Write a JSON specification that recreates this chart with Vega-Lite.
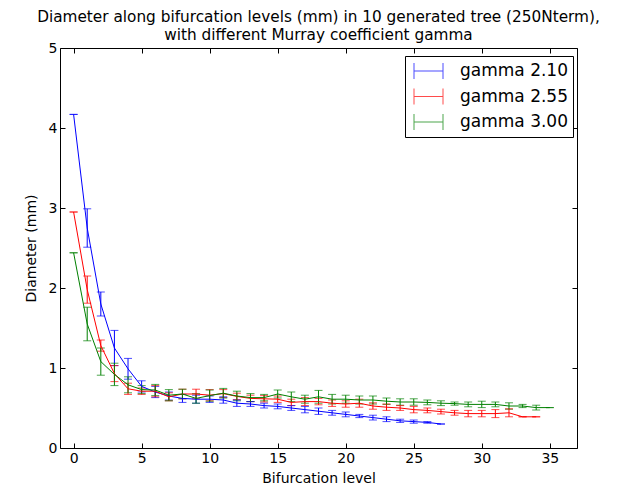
{
  "$schema": "https://vega.github.io/schema/vega-lite/v6.json",
  "width": 517,
  "height": 400,
  "autosize": "none",
  "padding": {"left": 60, "top": 48, "right": 53, "bottom": 44},
  "background": "white",
  "title": {
    "text": ["Diameter along bifurcation levels (mm) in 10 generated tree (250Nterm),", "with different Murray coefficient gamma"],
    "font": "DejaVu Sans",
    "fontSize": 15.3,
    "fontWeight": "normal",
    "color": "black",
    "anchor": "middle",
    "offset": -2,
    "lineHeight": 18
  },
  "config": {
    "view": {"stroke": "black", "strokeWidth": 1},
    "font": "DejaVu Sans",
    "axis": {
      "grid": false,
      "domain": false,
      "tickColor": "black",
      "tickSize": -5,
      "labelColor": "black",
      "labelFontSize": 14,
      "labelFont": "DejaVu Sans",
      "titleFont": "DejaVu Sans",
      "titleFontSize": 14,
      "titleFontWeight": "normal",
      "titleColor": "black",
      "labelPadding": 8
    }
  },
  "data": {
    "values": [
      {"gamma": "gamma 2.10", "level": 0, "mean": 4.17, "err": 0.0},
      {"gamma": "gamma 2.10", "level": 1, "mean": 2.75, "err": 0.24},
      {"gamma": "gamma 2.10", "level": 2, "mean": 1.80, "err": 0.15},
      {"gamma": "gamma 2.10", "level": 3, "mean": 1.25, "err": 0.22},
      {"gamma": "gamma 2.10", "level": 4, "mean": 0.99, "err": 0.13},
      {"gamma": "gamma 2.10", "level": 5, "mean": 0.77, "err": 0.07},
      {"gamma": "gamma 2.10", "level": 6, "mean": 0.70, "err": 0.07},
      {"gamma": "gamma 2.10", "level": 7, "mean": 0.65, "err": 0.05},
      {"gamma": "gamma 2.10", "level": 8, "mean": 0.62, "err": 0.05},
      {"gamma": "gamma 2.10", "level": 9, "mean": 0.61, "err": 0.05},
      {"gamma": "gamma 2.10", "level": 10, "mean": 0.61, "err": 0.04},
      {"gamma": "gamma 2.10", "level": 11, "mean": 0.60, "err": 0.04},
      {"gamma": "gamma 2.10", "level": 12, "mean": 0.56, "err": 0.04},
      {"gamma": "gamma 2.10", "level": 13, "mean": 0.55, "err": 0.03},
      {"gamma": "gamma 2.10", "level": 14, "mean": 0.53, "err": 0.03},
      {"gamma": "gamma 2.10", "level": 15, "mean": 0.52, "err": 0.03},
      {"gamma": "gamma 2.10", "level": 16, "mean": 0.50, "err": 0.03},
      {"gamma": "gamma 2.10", "level": 17, "mean": 0.48, "err": 0.04},
      {"gamma": "gamma 2.10", "level": 18, "mean": 0.46, "err": 0.04},
      {"gamma": "gamma 2.10", "level": 19, "mean": 0.44, "err": 0.03},
      {"gamma": "gamma 2.10", "level": 20, "mean": 0.42, "err": 0.03},
      {"gamma": "gamma 2.10", "level": 21, "mean": 0.40, "err": 0.02},
      {"gamma": "gamma 2.10", "level": 22, "mean": 0.38, "err": 0.03},
      {"gamma": "gamma 2.10", "level": 23, "mean": 0.36, "err": 0.03},
      {"gamma": "gamma 2.10", "level": 24, "mean": 0.34, "err": 0.02},
      {"gamma": "gamma 2.10", "level": 25, "mean": 0.33, "err": 0.02},
      {"gamma": "gamma 2.10", "level": 26, "mean": 0.32, "err": 0.01},
      {"gamma": "gamma 2.10", "level": 27, "mean": 0.30, "err": 0.0},
      {"gamma": "gamma 2.55", "level": 0, "mean": 2.95, "err": 0.0},
      {"gamma": "gamma 2.55", "level": 1, "mean": 1.98, "err": 0.17},
      {"gamma": "gamma 2.55", "level": 2, "mean": 1.28, "err": 0.07},
      {"gamma": "gamma 2.55", "level": 3, "mean": 0.93, "err": 0.10},
      {"gamma": "gamma 2.55", "level": 4, "mean": 0.74, "err": 0.07},
      {"gamma": "gamma 2.55", "level": 5, "mean": 0.71, "err": 0.04},
      {"gamma": "gamma 2.55", "level": 6, "mean": 0.71, "err": 0.07},
      {"gamma": "gamma 2.55", "level": 7, "mean": 0.64, "err": 0.05},
      {"gamma": "gamma 2.55", "level": 8, "mean": 0.675, "err": 0.06},
      {"gamma": "gamma 2.55", "level": 9, "mean": 0.675, "err": 0.06},
      {"gamma": "gamma 2.55", "level": 10, "mean": 0.66, "err": 0.07},
      {"gamma": "gamma 2.55", "level": 11, "mean": 0.68, "err": 0.05},
      {"gamma": "gamma 2.55", "level": 12, "mean": 0.645, "err": 0.04},
      {"gamma": "gamma 2.55", "level": 13, "mean": 0.62, "err": 0.04},
      {"gamma": "gamma 2.55", "level": 14, "mean": 0.615, "err": 0.04},
      {"gamma": "gamma 2.55", "level": 15, "mean": 0.61, "err": 0.04},
      {"gamma": "gamma 2.55", "level": 16, "mean": 0.57, "err": 0.04},
      {"gamma": "gamma 2.55", "level": 17, "mean": 0.58, "err": 0.05},
      {"gamma": "gamma 2.55", "level": 18, "mean": 0.58, "err": 0.04},
      {"gamma": "gamma 2.55", "level": 19, "mean": 0.56, "err": 0.04},
      {"gamma": "gamma 2.55", "level": 20, "mean": 0.55, "err": 0.04},
      {"gamma": "gamma 2.55", "level": 21, "mean": 0.56, "err": 0.05},
      {"gamma": "gamma 2.55", "level": 22, "mean": 0.525, "err": 0.04},
      {"gamma": "gamma 2.55", "level": 23, "mean": 0.51, "err": 0.04},
      {"gamma": "gamma 2.55", "level": 24, "mean": 0.50, "err": 0.03},
      {"gamma": "gamma 2.55", "level": 25, "mean": 0.48, "err": 0.04},
      {"gamma": "gamma 2.55", "level": 26, "mean": 0.47, "err": 0.03},
      {"gamma": "gamma 2.55", "level": 27, "mean": 0.455, "err": 0.03},
      {"gamma": "gamma 2.55", "level": 28, "mean": 0.44, "err": 0.03},
      {"gamma": "gamma 2.55", "level": 29, "mean": 0.43, "err": 0.04},
      {"gamma": "gamma 2.55", "level": 30, "mean": 0.43, "err": 0.04},
      {"gamma": "gamma 2.55", "level": 31, "mean": 0.43, "err": 0.05},
      {"gamma": "gamma 2.55", "level": 32, "mean": 0.44, "err": 0.05},
      {"gamma": "gamma 2.55", "level": 33, "mean": 0.39, "err": 0.0},
      {"gamma": "gamma 2.55", "level": 34, "mean": 0.39, "err": 0.0},
      {"gamma": "gamma 3.00", "level": 0, "mean": 2.44, "err": 0.0},
      {"gamma": "gamma 3.00", "level": 1, "mean": 1.55, "err": 0.21},
      {"gamma": "gamma 3.00", "level": 2, "mean": 1.08, "err": 0.17},
      {"gamma": "gamma 3.00", "level": 3, "mean": 0.92, "err": 0.14},
      {"gamma": "gamma 3.00", "level": 4, "mean": 0.79, "err": 0.10},
      {"gamma": "gamma 3.00", "level": 5, "mean": 0.73, "err": 0.05},
      {"gamma": "gamma 3.00", "level": 6, "mean": 0.725, "err": 0.07},
      {"gamma": "gamma 3.00", "level": 7, "mean": 0.66, "err": 0.07},
      {"gamma": "gamma 3.00", "level": 8, "mean": 0.675, "err": 0.06},
      {"gamma": "gamma 3.00", "level": 9, "mean": 0.62, "err": 0.06},
      {"gamma": "gamma 3.00", "level": 10, "mean": 0.655, "err": 0.07},
      {"gamma": "gamma 3.00", "level": 11, "mean": 0.685, "err": 0.06},
      {"gamma": "gamma 3.00", "level": 12, "mean": 0.65, "err": 0.06},
      {"gamma": "gamma 3.00", "level": 13, "mean": 0.63, "err": 0.05},
      {"gamma": "gamma 3.00", "level": 14, "mean": 0.63, "err": 0.04},
      {"gamma": "gamma 3.00", "level": 15, "mean": 0.675, "err": 0.05},
      {"gamma": "gamma 3.00", "level": 16, "mean": 0.64, "err": 0.06},
      {"gamma": "gamma 3.00", "level": 17, "mean": 0.61, "err": 0.05},
      {"gamma": "gamma 3.00", "level": 18, "mean": 0.64, "err": 0.08},
      {"gamma": "gamma 3.00", "level": 19, "mean": 0.61, "err": 0.06},
      {"gamma": "gamma 3.00", "level": 20, "mean": 0.61, "err": 0.05},
      {"gamma": "gamma 3.00", "level": 21, "mean": 0.60, "err": 0.05},
      {"gamma": "gamma 3.00", "level": 22, "mean": 0.60, "err": 0.05},
      {"gamma": "gamma 3.00", "level": 23, "mean": 0.585, "err": 0.04},
      {"gamma": "gamma 3.00", "level": 24, "mean": 0.575, "err": 0.04},
      {"gamma": "gamma 3.00", "level": 25, "mean": 0.575, "err": 0.04},
      {"gamma": "gamma 3.00", "level": 26, "mean": 0.57, "err": 0.03},
      {"gamma": "gamma 3.00", "level": 27, "mean": 0.56, "err": 0.03},
      {"gamma": "gamma 3.00", "level": 28, "mean": 0.555, "err": 0.02},
      {"gamma": "gamma 3.00", "level": 29, "mean": 0.545, "err": 0.03},
      {"gamma": "gamma 3.00", "level": 30, "mean": 0.545, "err": 0.04},
      {"gamma": "gamma 3.00", "level": 31, "mean": 0.545, "err": 0.03},
      {"gamma": "gamma 3.00", "level": 32, "mean": 0.525, "err": 0.04},
      {"gamma": "gamma 3.00", "level": 33, "mean": 0.525, "err": 0.02},
      {"gamma": "gamma 3.00", "level": 34, "mean": 0.505, "err": 0.03},
      {"gamma": "gamma 3.00", "level": 35, "mean": 0.505, "err": 0.0}
    ]
  },
  "layer": [
    {
      "encoding": {
        "x": {
          "field": "level", "type": "quantitative",
          "scale": {"domain": [-1, 37], "nice": false, "zero": false},
          "axis": {"values": [0, 5, 10, 15, 20, 25, 30, 35], "title": "Bifurcation level", "titlePadding": 6}
        },
        "y": {
          "field": "mean", "type": "quantitative",
          "scale": {"domain": [0, 5], "nice": false},
          "axis": {"values": [0, 1, 2, 3, 4, 5], "format": "d", "title": "Diameter (mm)", "titlePadding": 10}
        },
        "color": {
          "field": "gamma", "type": "nominal",
          "scale": {"domain": ["gamma 2.10", "gamma 2.55", "gamma 3.00"], "range": ["#0000ff", "#ff0000", "#008000"]},
          "legend": {
            "title": null,
            "orient": "none",
            "legendX": 345,
            "legendY": 8,
            "strokeColor": "black",
            "fillColor": "white",
            "padding": 4.5,
            "labelFontSize": 17,
            "labelFont": "DejaVu Sans",
            "labelColor": "black",
            "labelOffset": 21,
            "rowPadding": 4.5,
            "symbolOffset": 8.5,
            "symbolType": "M-1.45,0L1.45,0M-1.45,-0.8L-1.45,0.8M1.45,-0.8L1.45,0.8",
            "symbolSize": 400,
            "symbolStrokeWidth": 1,
            "cornerRadius": 0
          }
        }
      },
      "layer": [
        {
          "mark": {"type": "errorbar", "ticks": {"size": 8, "thickness": 1}, "thickness": 1},
          "encoding": {
            "yError": {"field": "err"}
          }
        },
        {
          "mark": {"type": "line", "strokeWidth": 1, "clip": true}
        }
      ]
    },
    {
      "mark": {"type": "point", "opacity": 0},
      "encoding": {
        "x": {"field": "level", "type": "quantitative", "axis": {"orient": "top", "labels": false, "title": null, "values": [0, 5, 10, 15, 20, 25, 30, 35]}},
        "y": {"field": "mean", "type": "quantitative", "axis": {"orient": "right", "labels": false, "title": null, "values": [0, 1, 2, 3, 4, 5]}}
      }
    }
  ],
  "resolve": {"axis": {"x": "independent", "y": "independent"}}
}
